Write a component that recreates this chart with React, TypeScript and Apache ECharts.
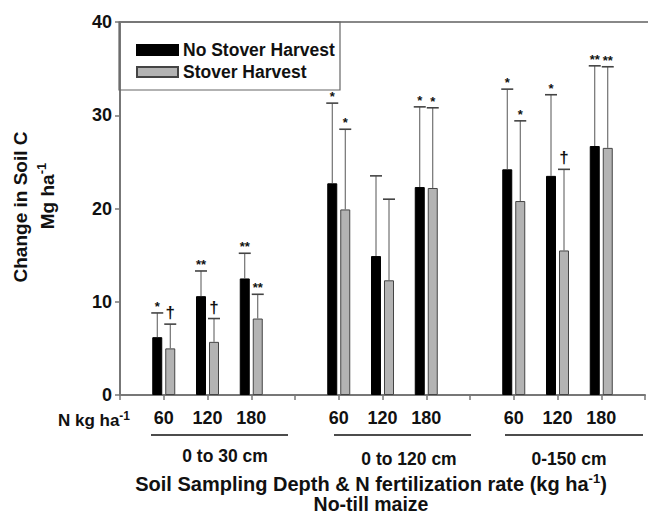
import React, { useEffect, useRef } from "react";
import * as echarts from "echarts";

const slotLabels = ["", "60", "120", "180", "", "60", "120", "180", "", "60", "120", "180", ""];
const slotIndex = [1, 2, 3, 5, 6, 7, 9, 10, 11];
const noHarvest = [6.2, 10.6, 12.5, 22.7, 14.9, 22.3, 24.2, 23.5, 26.7];
const noHarvestErrTop = [8.8, 13.3, 15.2, 31.3, 23.5, 30.9, 32.8, 32.2, 35.3];
const noHarvestMarks = ["*", "**", "**", "*", "", "*", "*", "*", "**"];
const harvest = [5.0, 5.7, 8.2, 19.9, 12.3, 22.2, 20.8, 15.5, 26.5];
const harvestErrTop = [7.6, 8.2, 10.8, 28.5, 21.0, 30.8, 29.4, 24.2, 35.2];
const harvestMarks = ["\u2020", "\u2020", "**", "*", "", "*", "*", "\u2020", "**"];
const groupLabels = ["0 to 30 cm", "0 to 120 cm", "0-150 cm"];
const yTicks = { min: 0, max: 40, interval: 10 };

const FONT = 'Arial, "Liberation Sans", Helvetica, sans-serif';
const BAR_W = 10;
const GAP = 3;

function toSlots(vals: number[]) {
  const arr: (number | null)[] = slotLabels.map(() => null);
  slotIndex.forEach((s, i) => (arr[s] = vals[i]));
  return arr;
}

function errSeries(vals: number[], tops: number[], marks: string[], offset: number) {
  return {
    type: "custom",
    z: 5,
    silent: true,
    data: slotIndex.map((s, i) => [s, tops[i], vals[i]]),
    renderItem: (params: any, api: any) => {
      const x = api.value(0);
      const top = api.value(1);
      const base = api.value(2);
      const p0 = api.coord([x, base]);
      const p1 = api.coord([x, top]);
      const cx = p0[0] + offset;
      const mark = marks[params.dataIndex];
      const isDagger = mark === "\u2020";
      return {
        type: "group",
        children: [
          { type: "line", shape: { x1: cx, y1: p0[1], x2: cx, y2: p1[1] }, style: { stroke: "#555", lineWidth: 1 } },
          { type: "line", shape: { x1: cx - 6, y1: p1[1], x2: cx + 6, y2: p1[1] }, style: { stroke: "#444", lineWidth: 1.6 } },
          {
            type: "text",
            style: {
              text: mark,
              x: cx,
              y: p1[1] - (isDagger ? 3 : 0),
              align: "center",
              verticalAlign: "bottom",
              fontSize: isDagger ? 17 : 13,
              fontWeight: "bold",
              fontFamily: FONT,
              fill: "#111",
            },
          },
        ],
      };
    },
  };
}

export default function App() {
  const ref = useRef<HTMLDivElement>(null);
  useEffect(() => {
    document.body.style.margin = "0";
    const chart = echarts.init(ref.current!, null, { renderer: "svg" });
    const textStyle = (size: number) => ({ fontFamily: FONT, fontWeight: "bold", fontSize: size, fill: "#111" });
    const sup = (size: number, pad: number) => ({
      sup: { fontFamily: FONT, fontWeight: "bold", fontSize: size, fill: "#111", padding: [0, 0, pad, 0] },
    });
    const option: any = {
      animation: false,
      backgroundColor: "#fff",
      grid: { left: 120, right: 3, top: 22, bottom: 120 },
      legend: {
        show: true,
        orient: "vertical",
        left: 131,
        top: 36,
        itemWidth: 41,
        itemHeight: 10,
        itemGap: 4,
        icon: "rect",
        textStyle: { fontFamily: FONT, fontWeight: "bold", fontSize: 17.5, color: "#111", lineHeight: 18 },
        data: ["No Stover Harvest", "Stover Harvest"],
      },
      xAxis: {
        type: "category",
        data: slotLabels,
        boundaryGap: false,
        axisLine: { lineStyle: { color: "#777", width: 2 } },
        axisTick: { show: true, interval: 0, length: 5, lineStyle: { color: "#777", width: 1.5 } },
        axisLabel: { interval: 0, margin: 14, fontFamily: FONT, fontWeight: "bold", fontSize: 18, color: "#111" },
        splitLine: { show: false },
      },
      yAxis: {
        type: "value",
        min: yTicks.min,
        max: yTicks.max,
        interval: yTicks.interval,
        axisLine: { show: true, lineStyle: { color: "#777", width: 2 } },
        axisTick: { show: true, length: 5, lineStyle: { color: "#777", width: 1.5 } },
        axisLabel: { margin: 8, fontFamily: FONT, fontWeight: "bold", fontSize: 18, color: "#111" },
        splitLine: { show: false },
      },
      series: [
        {
          name: "No Stover Harvest",
          type: "bar",
          barWidth: BAR_W,
          barGap: (GAP / BAR_W) * 100 + "%",
          data: toSlots(noHarvest),
          itemStyle: { color: "#000", borderColor: "#000", borderWidth: 1 },
        },
        {
          name: "Stover Harvest",
          type: "bar",
          barWidth: BAR_W,
          data: toSlots(harvest),
          itemStyle: { color: "#b3b3b3", borderColor: "#444", borderWidth: 1 },
        },
        errSeries(noHarvest, noHarvestErrTop, noHarvestMarks, -(BAR_W + GAP) / 2),
        errSeries(harvest, harvestErrTop, harvestMarks, (BAR_W + GAP) / 2),
      ],
      graphic: [
        { type: "line", shape: { x1: 119, y1: 22, x2: 648, y2: 22 }, style: { stroke: "#888", lineWidth: 2 }, z: 10 },
        { type: "rect", shape: { x: 119, y: 22, width: 221, height: 68 }, style: { fill: "none", stroke: "#666", lineWidth: 1.2 }, z: 10 },
        {
          type: "text",
          x: 130,
          y: 420,
          style: {
            text: "N kg ha{sup|-1}",
            align: "right",
            verticalAlign: "middle",
            ...textStyle(17),
            rich: sup(12, 9),
          },
        },
        { type: "line", shape: { x1: 151, y1: 435, x2: 288, y2: 435 }, style: { stroke: "#111", lineWidth: 1.5 } },
        { type: "line", shape: { x1: 334, y1: 435, x2: 471, y2: 435 }, style: { stroke: "#111", lineWidth: 1.5 } },
        { type: "line", shape: { x1: 505, y1: 435, x2: 643, y2: 435 }, style: { stroke: "#111", lineWidth: 1.5 } },
        { type: "text", x: 225, y: 456, style: { text: groupLabels[0], align: "center", verticalAlign: "middle", ...textStyle(17.5) } },
        { type: "text", x: 409, y: 459, style: { text: groupLabels[1], align: "center", verticalAlign: "middle", ...textStyle(17.5) } },
        { type: "text", x: 569, y: 459, style: { text: groupLabels[2], align: "center", verticalAlign: "middle", ...textStyle(17.5) } },
        {
          type: "text",
          x: 371,
          y: 484,
          style: {
            text: "Soil Sampling Depth & N fertilization rate (kg ha{sup|-1})",
            align: "center",
            verticalAlign: "middle",
            ...textStyle(20),
            rich: sup(13, 11),
          },
        },
        { type: "text", x: 371, y: 504, style: { text: "No-till maize", align: "center", verticalAlign: "middle", ...textStyle(19.5) } },
        {
          type: "text",
          x: 20,
          y: 207,
          rotation: Math.PI / 2,
          style: { text: "Change in Soil C", align: "center", verticalAlign: "middle", ...textStyle(19) },
        },
        {
          type: "text",
          x: 47,
          y: 196,
          rotation: Math.PI / 2,
          style: {
            text: "Mg ha{sup|-1}",
            align: "center",
            verticalAlign: "middle",
            ...textStyle(19),
            rich: sup(13, 11),
          },
        },
      ],
    };
    chart.setOption(option);
    return () => chart.dispose();
  }, []);
  return <div ref={ref} style={{ width: 648, height: 515 }} />;
}
